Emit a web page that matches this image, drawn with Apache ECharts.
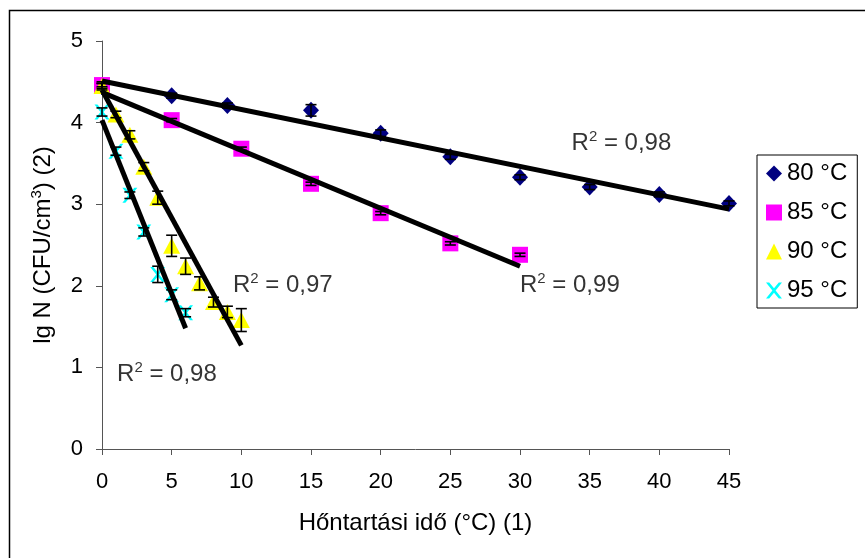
<!DOCTYPE html>
<html>
<head>
<meta charset="utf-8">
<script src="https://cdn.jsdelivr.net/npm/echarts@6/dist/echarts.min.js"></script>
<style>
html,body{margin:0;padding:0;background:#fff;}
#chart{width:865px;height:558px;}
</style>
</head>
<body>
<div id="chart"></div>
<script>
// mért adatok (lg N) – az ábráról leolvasva
var time80 = [0, 5, 9, 15, 20, 25, 30, 35, 40, 45];
var lg80 = [4.45, 4.33, 4.21, 4.15, 3.87, 3.58, 3.33, 3.21, 3.12, 3.01];
var err80 = [0.03, 0.03, 0.03, 0.07, 0.04, 0.03, 0.03, 0.03, 0.03, 0.03];

var time85 = [0, 5, 10, 15, 20, 25, 30];
var lg85 = [4.46, 4.03, 3.68, 3.25, 2.89, 2.52, 2.38];
var err85 = [0.02, 0.02, 0.02, 0.02, 0.02, 0.02, 0.02];

var time90 = [0, 1, 2, 3, 4, 5, 6, 7, 8, 9, 10];
var lg90 = [4.45, 4.10, 3.85, 3.46, 3.08, 2.49, 2.24, 2.03, 1.80, 1.68, 1.58];
var err90 = [0.05, 0.04, 0.05, 0.05, 0.08, 0.13, 0.10, 0.08, 0.06, 0.07, 0.14];

var time95 = [0, 1, 2, 3, 4, 5, 6];
var lg95 = [4.13, 3.65, 3.11, 2.66, 2.14, 1.89, 1.67];
var err95 = [0.05, 0.05, 0.04, 0.05, 0.10, 0.06, 0.05];

// trendvonalak végpontjai [x0, y0, x1, y1]
var trend80 = [0, 4.51, 45, 2.94];
var trend85 = [0, 4.37, 30, 2.24];
var trend90 = [0, 4.40, 10, 1.27];
var trend95 = [0, 4.03, 6, 1.48];

var seriesNames = ["80 °C", "85 °C", "90 °C", "95 °C"];
var r2Texts = ["0,98", "0,99", "0,97", "0,98"];
var r2Pos = [[33.7, 3.75], [30.0, 2.01], [9.4, 2.01], [1.08, 0.92]];
var xTicks = [0, 5, 10, 15, 20, 25, 30, 35, 40, 45];
var yTicks = [0, 1, 2, 3, 4, 5];

var crossPath = "path://M0,0 L2,0 L5,3.6 L8,0 L10,0 L6,5 L10,10 L8,10 L5,6.4 L2,10 L0,10 L4,5 Z";
var font = "Liberation Sans, Arial, sans-serif";

function pairs(xs, ys){
	return xs.map(function(x, i){ return [x, ys[i]]; });
}
function triples(xs, ys, es){
	return xs.map(function(x, i){ return [x, ys[i], es[i]]; });
}
function trendData(t){
	return [[t[0], t[1]], [t[2], t[3]]];
}

// hibasáv rajzolása
function renderError(params, api){
	var x = api.value(0), y = api.value(1), e = api.value(2);
	var hi = api.coord([x, y + e]);
	var lo = api.coord([x, y - e]);
	var w = 5.5;
	var st = {stroke: "#000", lineWidth: 1.6};
	return {
		type: "group",
		children: [
			{type: "line", shape: {x1: hi[0], y1: hi[1], x2: lo[0], y2: lo[1]}, style: st},
			{type: "line", shape: {x1: hi[0] - w, y1: hi[1], x2: hi[0] + w, y2: hi[1]}, style: st},
			{type: "line", shape: {x1: lo[0] - w, y1: lo[1], x2: lo[0] + w, y2: lo[1]}, style: st}
		]
	};
}

function scatterSeries(name, data, symbol, size, color){
	return {
		name: name,
		type: "scatter",
		data: data,
		symbol: symbol,
		symbolSize: size,
		itemStyle: {color: color, opacity: 1},
		z: 3
	};
}
function errorSeries(data){
	return {type: "custom", renderItem: renderError, data: data, z: 4, silent: true};
}
function trendSeries(t){
	return {
		type: "line",
		data: trendData(t),
		symbol: "none",
		lineStyle: {color: "#000", width: 5},
		z: 5,
		silent: true
	};
}

var richSup = {
	base: {fontSize: 24, fontFamily: font, color: "#000"},
	sup: {fontSize: 15, fontFamily: font, color: "#000", padding: [0, 0, 13, 0]}
};

var option = {
	animation: false,
	backgroundColor: "#fff",
	grid: {left: 102, right: 136, top: 41, bottom: 109},
	graphic: [{
		type: "rect",
		left: 7, top: 8,
		shape: {width: 900, height: 600},
		style: {fill: "none", stroke: "#000", lineWidth: 1.5},
		silent: true
	}],
	legend: {
		orient: "vertical",
		left: 757, top: 155,
		padding: [5, 10, 4, 9],
		itemGap: 12,
		itemWidth: 16, itemHeight: 16,
		borderColor: "#000", borderWidth: 1,
		textStyle: {fontSize: 24, fontFamily: font, color: "#000", lineHeight: 27},
		data: [
			{name: seriesNames[0], icon: "diamond"},
			{name: seriesNames[1], icon: "rect"},
			{name: seriesNames[2], icon: "triangle"},
			{name: seriesNames[3], icon: crossPath}
		]
	},
	xAxis: {
		type: "value",
		min: xTicks[0], max: xTicks[xTicks.length - 1], interval: 5,
		name: "Hőntartási idő (°C) (1)",
		nameLocation: "middle", nameGap: 62,
		nameTextStyle: {fontSize: 24, fontFamily: font, color: "#000"},
		axisLine: {lineStyle: {color: "#555", width: 1}},
		axisTick: {length: 6, lineStyle: {color: "#555"}},
		axisLabel: {fontSize: 22, fontFamily: font, color: "#000", margin: 22},
		splitLine: {show: false}
	},
	yAxis: {
		type: "value",
		min: yTicks[0], max: yTicks[yTicks.length - 1], interval: 1,
		name: "{base|lg N (CFU/cm}{sup|3}{base|) (2)}",
		nameLocation: "middle", nameGap: 45,
		nameTextStyle: {rich: richSup},
		axisLine: {show: true, lineStyle: {color: "#555", width: 1}},
		axisTick: {show: true, length: 6, lineStyle: {color: "#555"}},
		axisLabel: {fontSize: 22, fontFamily: font, color: "#000", margin: 19},
		splitLine: {show: false}
	},
	series: [
		scatterSeries(seriesNames[0], pairs(time80, lg80), "diamond", [16, 17], "#000080"),
		scatterSeries(seriesNames[1], pairs(time85, lg85), "rect", 16, "#FF00FF"),
		scatterSeries(seriesNames[2], pairs(time90, lg90), "triangle", [17, 16], "#FFFF00"),
		scatterSeries(seriesNames[3], pairs(time95, lg95), crossPath, 15, "#00FFFF"),
		errorSeries(triples(time80, lg80, err80)),
		errorSeries(triples(time85, lg85, err85)),
		errorSeries(triples(time90, lg90, err90)),
		errorSeries(triples(time95, lg95, err95)),
		trendSeries(trend80),
		trendSeries(trend85),
		trendSeries(trend90),
		trendSeries(trend95),
		{
			// R² feliratok
			type: "scatter",
			symbolSize: 0,
			silent: true,
			z: 6,
			data: r2Pos,
			label: {
				show: true,
				position: "right",
				distance: 0,
				formatter: function(p){ return "{base|R}{sup|2}{base| = " + r2Texts[p.dataIndex] + "}"; },
				rich: richSup
			}
		}
	]
};

var myChart = echarts.init(document.getElementById("chart"));
myChart.setOption(option);
</script>
</body>
</html>
